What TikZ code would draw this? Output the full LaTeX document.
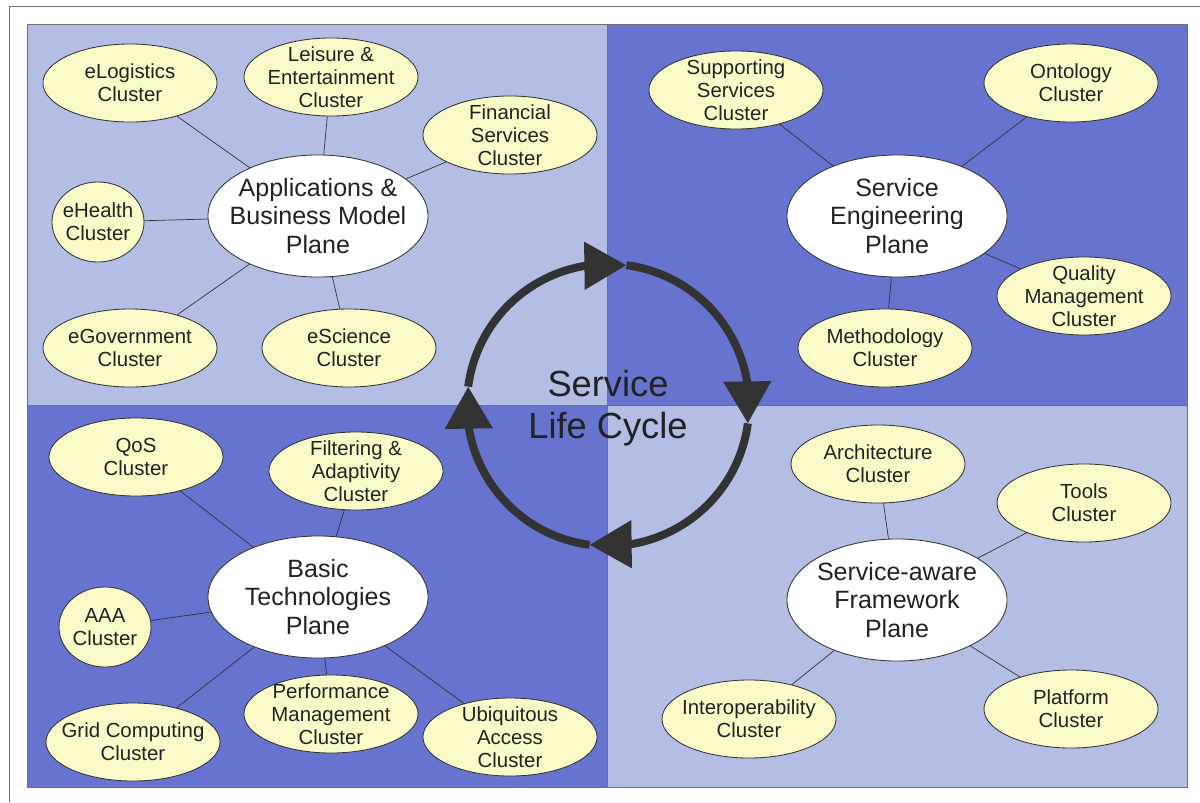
\documentclass[tikz,border=0pt]{standalone}
\usepackage{fontspec}
\setmainfont{Liberation Sans}
\usetikzlibrary{shapes.geometric,arrows.meta,bending}

\definecolor{quadlight}{HTML}{B4BEE4}
\definecolor{quaddark}{HTML}{6674D0}
\definecolor{clusterfill}{HTML}{FAFAC8}
\definecolor{inkdark}{HTML}{222222}
\definecolor{framegray}{HTML}{707070}
\definecolor{edgegray}{HTML}{333333}

\begin{document}
\begin{tikzpicture}[x=0.025cm,y=-0.025cm,
  clustertext/.style={text=inkdark, align=center, inner sep=0pt,
    font=\fontsize{14.5}{16.5}\selectfont},
  planetext/.style={text=inkdark, align=center, inner sep=0pt,
    font=\fontsize{17.8}{20}\selectfont},
  cluster/.style={ellipse, draw=edgegray, line width=0.6pt, fill=clusterfill,
    minimum width=4.35cm, minimum height=1.95cm, inner sep=0pt,
    label={[clustertext]center:#1}},
  roundcluster/.style={cluster=#1, minimum width=2.3cm, minimum height=2cm},
  plane/.style={ellipse, draw=edgegray, line width=0.6pt, fill=white,
    minimum width=5.5cm, minimum height=3.05cm, inner sep=0pt,
    label={[planetext]center:#1}},
  link/.style={draw=edgegray, line width=0.5pt},
  ringarrow/.style={draw=edgegray, line width=0.2cm,
    -{Triangle[length=1.05cm,width=1.15cm]}},
  divider/.style={draw=framegray, line width=0.6pt},
]
\useasboundingbox (0,0) rectangle (1200,802);

% outer page frame
\draw[framegray, line width=0.7pt] (9,802) -- (9,6) -- (1200,6);

% four quadrants
\fill[quadlight] (27,24) rectangle (607,405);
\fill[quaddark] (607,24) rectangle (1187,405);
\fill[quaddark] (27,405) rectangle (607,787);
\fill[quadlight] (607,405) rectangle (1187,787);
\draw[divider] (27,24) rectangle (1187,787);
\draw[divider] (607,24) -- (607,787);
\draw[divider] (27,405) -- (1187,405);

% Applications & Business Model Plane
\node[plane={Applications \&\\Business Model\\Plane}] (app) at (318,216) {};
\node[cluster={eLogistics\\Cluster}] (elog) at (130,83) {};
\node[cluster={Leisure \&\\Entertainment\\Cluster}] (leis) at (331,77) {};
\node[cluster={Financial\\Services\\Cluster}] (fin) at (510,135) {};
\node[roundcluster={eHealth\\Cluster}] (ehe) at (98,222) {};
\node[cluster={eGovernment\\Cluster}] (egov) at (130,348) {};
\node[cluster={eScience\\Cluster}] (esci) at (349,348) {};
\foreach \c in {elog,leis,fin,ehe,egov,esci} \draw[link] (app) -- (\c);

% Service Engineering Plane
\node[plane={Service\\Engineering\\Plane}] (seng) at (897,216) {};
\node[cluster={Supporting\\Services\\Cluster}] (supp) at (736,90) {};
\node[cluster={Ontology\\Cluster}] (onto) at (1071,83) {};
\node[cluster={Quality\\Management\\Cluster}] (qual) at (1084,296) {};
\node[cluster={Methodology\\Cluster}] (meth) at (885,348) {};
\foreach \c in {supp,onto,qual,meth} \draw[link] (seng) -- (\c);

% Basic Technologies Plane
\node[plane={Basic\\Technologies\\Plane}] (basic) at (318,597) {};
\node[cluster={QoS\\Cluster}] (qos) at (136,457) {};
\node[cluster={Filtering \&\\Adaptivity\\Cluster}] (filt) at (356,471) {};
\node[roundcluster={AAA\\Cluster}] (aaa) at (105,627) {};
\node[cluster={Grid Computing\\Cluster}] (grid) at (133,742) {};
\node[cluster={Performance\\Management\\Cluster}] (perf) at (331,714) {};
\node[cluster={Ubiquitous\\Access\\Cluster}] (ubiq) at (510,737) {};
\foreach \c in {qos,filt,aaa,grid,perf,ubiq} \draw[link] (basic) -- (\c);

% Service-aware Framework Plane
\node[plane={Service-aware\\Framework\\Plane}] (saf) at (897,600) {};
\node[cluster={Architecture\\Cluster}] (arch) at (878,464) {};
\node[cluster={Tools\\Cluster}] (tools) at (1084,503) {};
\node[cluster={Interoperability\\Cluster}] (inter) at (749,719) {};
\node[cluster={Platform\\Cluster}] (plat) at (1071,709) {};
\foreach \c in {arch,tools,inter,plat} \draw[link] (saf) -- (\c);

% life cycle ring: four clockwise arcs
\coordinate (ctr) at (608,405);
\foreach \a in {172.5,82.5,-7.5,-97.5}
  \draw[ringarrow] (ctr) ++(\a:3.525cm) arc[start angle=\a, delta angle=-90, radius=3.525cm];
\node[text=inkdark, align=center, inner sep=0pt, font=\fontsize{25.8}{29.5}\selectfont]
  (slc) at (608,408) {Service\\Life Cycle};
\end{tikzpicture}
\end{document}
